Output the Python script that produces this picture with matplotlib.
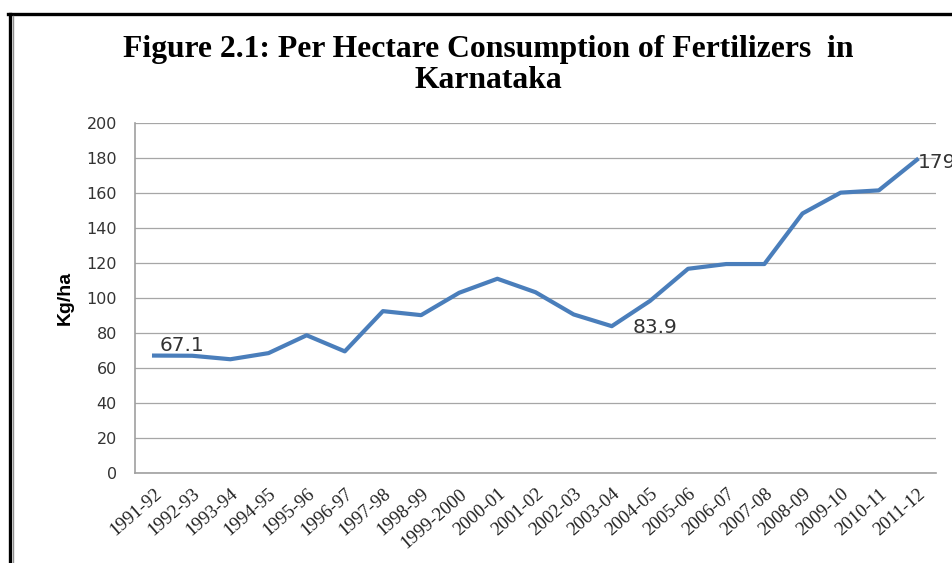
import matplotlib
matplotlib.use("Agg")
import matplotlib.pyplot as plt
from matplotlib.lines import Line2D

years = ["1991-92", "1992-93", "1993-94", "1994-95", "1995-96", "1996-97",
         "1997-98", "1998-99", "1999-2000", "2000-01", "2001-02", "2002-03",
         "2003-04", "2004-05", "2005-06", "2006-07", "2007-08", "2008-09",
         "2009-10", "2010-11", "2011-12"]
kg_per_ha = [67.1, 67.0, 65.0, 68.5, 78.7, 69.5, 92.5, 90.2, 103.0, 111.0,
             103.3, 90.6, 83.9, 98.3, 116.7, 119.4, 119.4, 148.3, 160.2,
             161.5, 179.0]
# index of point -> (label, pixel offset)
labelled = {0: ("67.1", (6, 5)), 12: ("83.9", (21, -7)), 20: ("179", (1, -8))}

fig = plt.figure(figsize=(9.52, 5.63), dpi=100, facecolor="white")
ax = fig.add_axes([135 / 952, 1 - 473 / 563, 801 / 952, 350 / 563])

x = list(range(len(years)))
ax.plot(x, kg_per_ha, color="#4a7ebb", lw=3.0, solid_joinstyle="round", zorder=3)
for i, (txt, off) in labelled.items():
    ax.annotate(txt, (x[i], kg_per_ha[i]), xytext=off, textcoords="offset pixels",
                ha="left", va="baseline", fontsize=14.5, color="#333333",
                family="DejaVu Sans", annotation_clip=False)

ax.set_xlim(-0.5, len(years) - 0.5)
ax.set_ylim(0, 200)
ax.set_yticks(range(0, 201, 20))
ax.grid(axis="y", color="#a6a6a6", lw=0.9)
ax.set_axisbelow(True)
for s in ["top", "right"]:
    ax.spines[s].set_visible(False)
for s in ["left", "bottom"]:
    ax.spines[s].set_color("#a0a0a0")
    ax.spines[s].set_linewidth(1.2)

ax.set_xticks(x)
ax.set_xticklabels(years, rotation=41, ha="right", rotation_mode="anchor",
                   family="Liberation Serif", fontsize=13.5, color="#222222")
ax.tick_params(axis="x", length=0, pad=9)
ax.tick_params(axis="y", length=0, pad=13, labelsize=11.5, labelcolor="#333333")
for lab in ax.get_yticklabels():
    lab.set_family("DejaVu Sans")

ax.set_ylabel("Kg/ha", family="Liberation Sans", fontweight="bold", fontsize=14,
              labelpad=9)

fig.text(488 / 952, 1 - 57 / 563, "Figure 2.1: Per Hectare Consumption of Fertilizers  in",
         ha="center", va="baseline", family="Liberation Serif", fontweight="bold",
         fontsize=22.8)
fig.text(488 / 952, 1 - 88 / 563, "Karnataka", ha="center", va="baseline",
         family="Liberation Serif", fontweight="bold", fontsize=22.8)

# chart frame (only the top and left edges fall inside the picture)
fig.add_artist(Line2D([9.5 / 952, 9.5 / 952], [0, 1 - 14 / 563], color="black",
                      lw=2.4, transform=fig.transFigure))
fig.add_artist(Line2D([8 / 952, 1], [1 - 14 / 563, 1 - 14 / 563], color="black",
                      lw=2.4, transform=fig.transFigure))
fig.add_artist(Line2D([12.5 / 952, 12.5 / 952], [0, 1 - 16 / 563], color="#909090",
                      lw=1.0, transform=fig.transFigure))

fig.savefig("out.png", dpi=100, facecolor="white")
